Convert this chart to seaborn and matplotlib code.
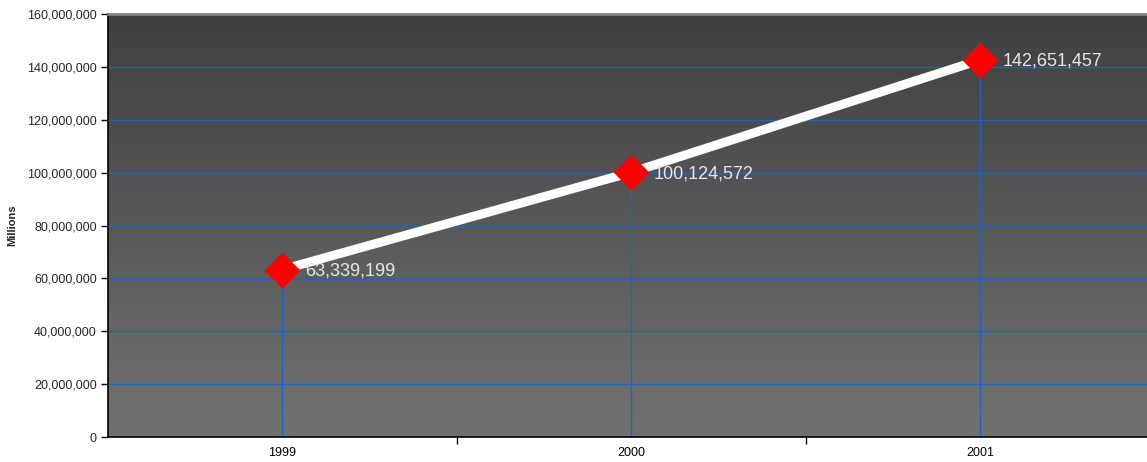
import numpy as np
import pandas as pd
import matplotlib
matplotlib.use("Agg")
import matplotlib.pyplot as plt
import seaborn as sns
from matplotlib.ticker import FuncFormatter, FixedLocator
from matplotlib.colors import LinearSegmentedColormap

years = ["1999", "2000", "2001"]
values = [63339199, 100124572, 142651457]
y_ticks = [0, 20e6, 40e6, 60e6, 80e6, 100e6, 120e6, 140e6, 160e6]

sns.set_theme(style="white")
plt.rcParams["font.family"] = ["Liberation Sans", "DejaVu Sans"]

df = pd.DataFrame({"pos": np.arange(len(years)), "value": values})

fig = plt.figure(figsize=(11.47, 4.62), dpi=100)
# plot area runs past the right edge of the figure
ax = fig.add_axes([108 / 1147, 25 / 462, 1047 / 1147, 423 / 462])

# vertical gradient background
cmap = LinearSegmentedColormap.from_list("bg", ["#717171", "#404040"])
grad = np.linspace(0, 1, 256).reshape(-1, 1)
ax.imshow(grad, cmap=cmap, aspect="auto", extent=[0, 1, 0, 1],
          transform=ax.transAxes, origin="lower", zorder=0)

ax.set_xlim(-0.5, 2.5)
ax.set_ylim(0, 160e6)

# horizontal gridlines
for t in y_ticks[1:-1]:
    ax.axhline(t, color="#1a64c8", lw=1.0, zorder=1)
# drop lines from each point
ax.vlines(df["pos"], 0, df["value"], color="#1a64c8", lw=1.0, zorder=1)

sns.lineplot(data=df, x="pos", y="value", ax=ax, color="white", lw=6.5,
             zorder=3, solid_capstyle="butt")
ax.plot(df["pos"], df["value"], ls="none", marker="D", ms=17,
        mfc="#ff0000", mec="#ff0000", zorder=4)

for x, v in zip(df["pos"], df["value"]):
    ax.annotate(f"{v:,}", (x, v), xytext=(16, -1), textcoords="offset points",
                ha="left", va="center", color="#e6e6e6", fontsize=13, zorder=5)

ax.yaxis.set_major_locator(FixedLocator(y_ticks))
ax.yaxis.set_major_formatter(FuncFormatter(lambda v, p: f"{int(v):,}"))
ax.set_xticks(df["pos"])
ax.set_xticklabels(years)
ax.set_xticks([0.5, 1.5, 2.5], minor=True)
ax.tick_params(axis="x", which="major", length=0, pad=7, labelsize=9, colors="black")
ax.tick_params(axis="x", which="minor", length=5, width=1, color="black", direction="out")
ax.tick_params(axis="y", length=5, width=1, color="black", direction="out",
               labelsize=9, pad=3)
ax.xaxis.set_ticks_position("bottom")
ax.yaxis.set_ticks_position("left")

ax.set_xlabel("")
ax.set_ylabel("Millions", fontsize=8, fontweight="bold", labelpad=7)

for side in ["left", "bottom"]:
    ax.spines[side].set_visible(True)
    ax.spines[side].set_color("black")
    ax.spines[side].set_linewidth(1.2)
ax.spines["top"].set_color("#808080")
ax.spines["top"].set_linewidth(2)
ax.spines["right"].set_visible(False)

fig.savefig("out.png", dpi=100, facecolor="white")
